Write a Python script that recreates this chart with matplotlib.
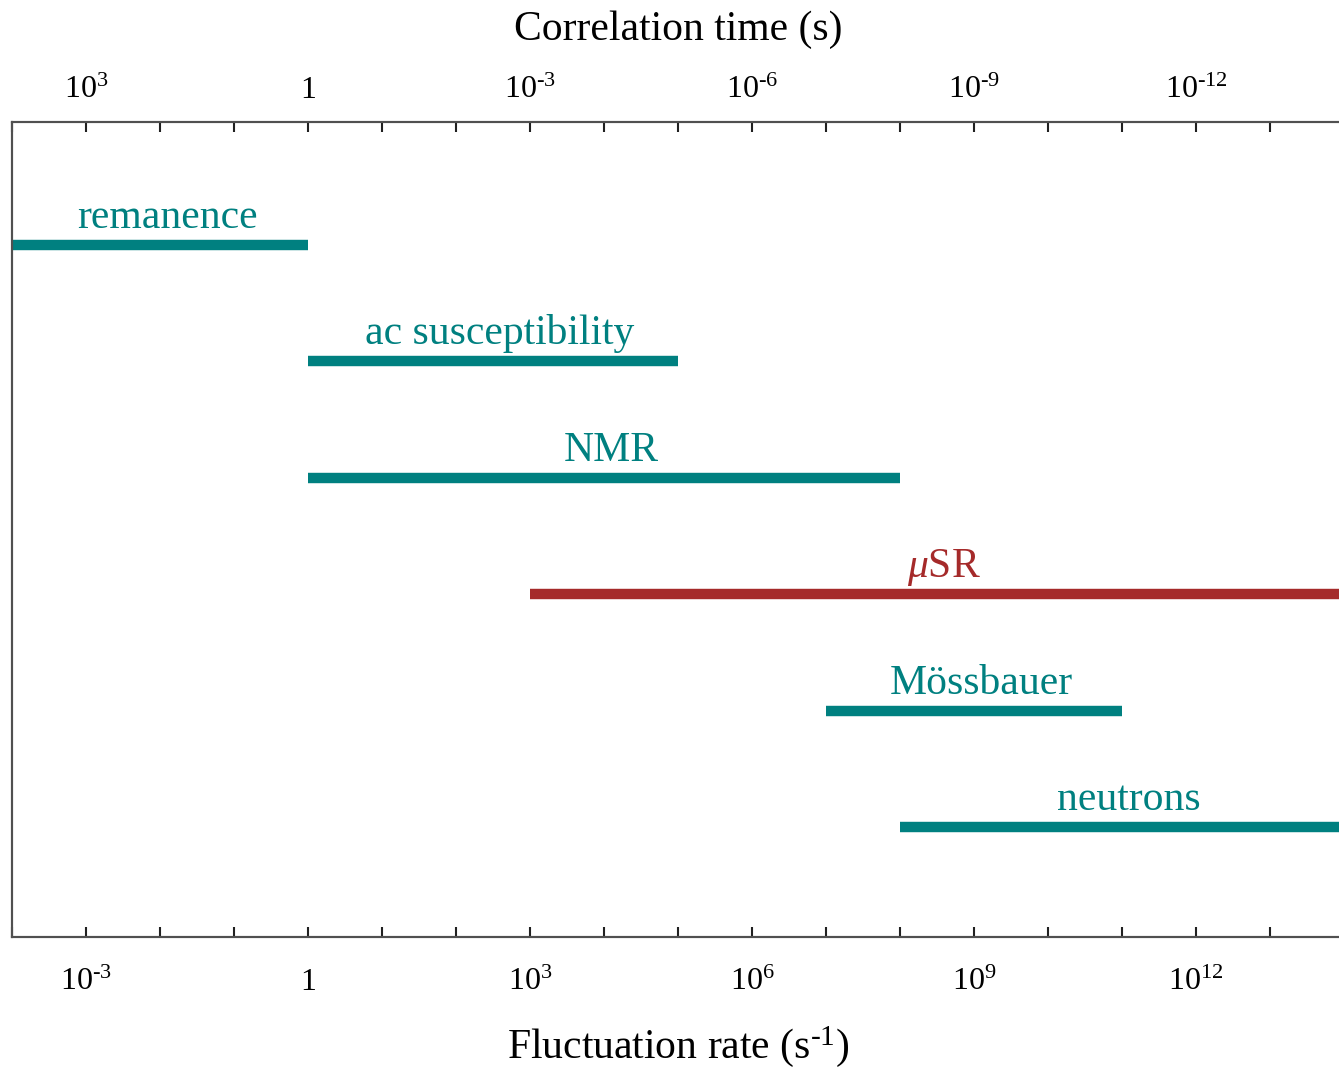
import numpy as np
import matplotlib
matplotlib.use("Agg")
import matplotlib.pyplot as plt

plt.rcParams['font.family'] = ['Liberation Serif', 'DejaVu Serif']
plt.rcParams['mathtext.fontset'] = 'custom'
plt.rcParams['mathtext.rm'] = 'Liberation Serif'
plt.rcParams['mathtext.it'] = 'Liberation Serif:italic'
plt.rcParams['mathtext.bf'] = 'Liberation Serif:bold'

# Data
techniques = ['remanence', 'ac susceptibility', 'NMR', r'$\mu$SR', 'Mössbauer', 'neutrons']
rate_low = [1e-4, 1e0, 1e0, 1e3, 1e7, 1e8]
rate_high = [1e0, 1e5, 1e8, 1e14, 1e11, 1e14]
colors_list = ['#008080', '#008080', '#008080', '#a52a2a', '#008080', '#008080']
bottom_tick_vals = [1e-3, 1e0, 1e3, 1e6, 1e9, 1e12]
bottom_tick_labels = [r'$10^{\text{-}3}$', r'$1$', r'$10^{3}$', r'$10^{6}$', r'$10^{9}$', r'$10^{12}$']
top_tick_labels = [r'$10^{3}$', r'$1$', r'$10^{\text{-}3}$', r'$10^{\text{-}6}$', r'$10^{\text{-}9}$', r'$10^{\text{-}12}$']

W, H = 1339, 1072
fig = plt.figure(figsize=(W/100, H/100), dpi=100)
left = 12 / W
bottom = 1 - 937 / H
height = (937 - 122) / H
width = 18 * 74 / W
ax = fig.add_axes([left, bottom, width, height])

spine_col = '#505050'
ypos = np.arange(len(techniques))
for y, lo, hi, c, name in zip(ypos, rate_low, rate_high, colors_list, techniques):
    ax.hlines(y, lo, hi, color=c, linewidth=7.5, capstyle='butt')
    mid = np.sqrt(lo * hi)
    ax.annotate(name, xy=(mid, y), xytext=(7, 17), textcoords='offset pixels',
                ha='center', va='baseline', color=c, fontsize=30)

ticks = [10.0**k for k in range(-4, 15)]
labels = []
tlabels = []
for t in ticks:
    if t in bottom_tick_vals:
        i = bottom_tick_vals.index(t)
        labels.append(bottom_tick_labels[i])
        tlabels.append(top_tick_labels[i])
    else:
        labels.append('')
        tlabels.append('')

ax.set_xscale('log')
ax.set_xlim(1e-4, 1e14)
ax.set_ylim(5.945, -1.057)
ax.set_yticks([])
ax.set_xticks(ticks)
ax.set_xticklabels(labels)
ax.xaxis.set_minor_locator(matplotlib.ticker.NullLocator())
ax.tick_params(axis='x', direction='in', length=7, width=1.5, color='#202020',
               labelsize=23, pad=22)
for s in ax.spines.values():
    s.set_color(spine_col)
    s.set_linewidth(1.5)
ax.set_xlabel(r'Fluctuation rate (s$^{\text{-}1}$)', fontsize=30, labelpad=20)

ax2 = ax.twiny()
ax2.set_xscale('log')
ax2.set_xlim(ax.get_xlim())
ax2.set_xticks(ticks)
ax2.set_xticklabels(tlabels)
ax2.xaxis.set_minor_locator(matplotlib.ticker.NullLocator())
ax2.tick_params(axis='x', direction='in', length=7, width=1.5, color='#202020',
                labelsize=23, pad=12)
for s in ax2.spines.values():
    s.set_color(spine_col)
    s.set_linewidth(1.5)
ax2.set_xlabel('Correlation time (s)', fontsize=30, labelpad=26)

fig.savefig('out.png', dpi=100)
